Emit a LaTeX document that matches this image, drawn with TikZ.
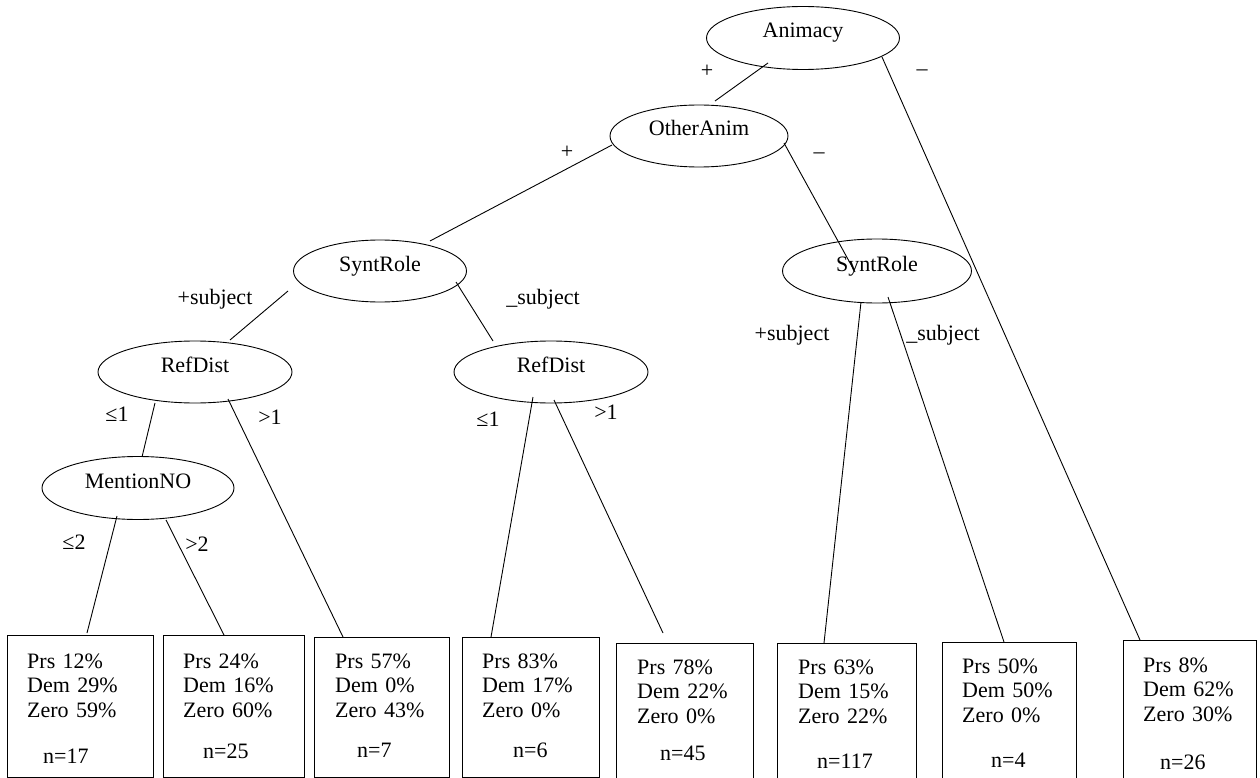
\documentclass[tikz,border=0pt]{standalone}
\usepackage{fontspec}
\setmainfont{Liberation Serif}
\usetikzlibrary{shapes.geometric,positioning}

\tikzset{
  split/.style={ellipse, draw, line width=0.9pt, inner sep=0pt, text height=10pt, text depth=10pt},
  leafbox/.style={rectangle, draw, line width=0.9pt, anchor=north west, inner sep=0pt},
  leaftext/.style={anchor=base west, inner sep=0pt, text width=112pt, align=left},
  branch/.style={line width=0.9pt},
  edgelabel/.style={inner sep=0pt},
}

\begin{document}
\begin{tikzpicture}[x=1pt, y=-1pt, font=\fontsize{22}{24.5}\selectfont]
    \useasboundingbox (0,0) rectangle (1260,778);
    \clip (0,0) rectangle (1260,778);

    % splits
    \node[split, minimum width=193pt, minimum height=63pt] (animacy) at (803,38) {Animacy};
    \node[split, minimum width=178pt, minimum height=62pt] (otheranim) at (699,136) {OtherAnim};
    \node[split, minimum width=173pt, minimum height=62pt] (syntroleL) at (380,271) {SyntRole};
    \node[split, minimum width=189pt, minimum height=64pt] (syntroleR) at (877,271) {SyntRole};
    \node[split, minimum width=194pt, minimum height=62pt] (refdistL) at (195,372) {RefDist};
    \node[split, minimum width=194pt, minimum height=62pt] (refdistR) at (551,372) {RefDist};
    \node[split, minimum width=192pt, minimum height=63pt] (mention) at (138,488) {MentionNO};

    % leaves
    \node[leafbox, minimum width=146pt, minimum height=142pt] (leafA) at (7,635) {};
    \node[leaftext] (textA) at ([shift={(20,33)}]leafA.north west) {Prs 12\%\\Dem 29\%\\Zero 59\%\\[21.5pt]\hspace*{16pt}n=17};
    \node[leafbox, minimum width=141pt, minimum height=142pt] (leafB) at (163,635) {};
    \node[leaftext] (textB) at ([shift={(20,33)}]leafB.north west) {Prs 24\%\\Dem 16\%\\Zero 60\%\\[16.5pt]\hspace*{20pt}n=25};
    \node[leafbox, minimum width=135pt, minimum height=140pt] (leafC) at (314,637) {};
    \node[leaftext] (textC) at ([shift={(21,31)}]leafC.north west) {Prs 57\%\\Dem 0\%\\Zero 43\%\\[15.5pt]\hspace*{22pt}n=7};
    \node[leafbox, minimum width=137pt, minimum height=140pt] (leafD) at (462,637) {};
    \node[leaftext] (textD) at ([shift={(20,31)}]leafD.north west) {Prs 83\%\\Dem 17\%\\Zero 0\%\\[15.5pt]\hspace*{31pt}n=6};
    \node[leafbox, minimum width=137pt, minimum height=150pt] (leafE) at (616,643) {};
    \node[leaftext] (textE) at ([shift={(21,31)}]leafE.north west) {Prs 78\%\\Dem 22\%\\Zero 0\%\\[12.5pt]\hspace*{23pt}n=45};
    \node[leafbox, minimum width=139pt, minimum height=150pt] (leafF) at (777,643) {};
    \node[leaftext] (textF) at ([shift={(21,31)}]leafF.north west) {Prs 63\%\\Dem 15\%\\Zero 22\%\\[20.5pt]\hspace*{19pt}n=117};
    \node[leafbox, minimum width=134pt, minimum height=150pt] (leafG) at (942,642) {};
    \node[leaftext] (textG) at ([shift={(20,31)}]leafG.north west) {Prs 50\%\\Dem 50\%\\Zero 0\%\\[20.5pt]\hspace*{29pt}n=4};
    \node[leafbox, minimum width=133pt, minimum height=150pt] (leafH) at (1123,640) {};
    \node[leaftext] (textH) at ([shift={(20,32)}]leafH.north west) {Prs 8\%\\Dem 62\%\\Zero 30\%\\[23.5pt]\hspace*{17pt}n=26};

    % branches
    \draw[branch] ([shift={(-35,25)}]animacy.center) -- ([shift={(16,-35)}]otheranim.center);
    \draw[branch] ([shift={(79,19)}]animacy.center) -- ([shift={(17,0)}]leafH.north west);
    \draw[branch] ([shift={(-87,9)}]otheranim.center) -- ([shift={(50,-30)}]syntroleL.center);
    \draw[branch] ([shift={(85,7)}]otheranim.center) -- ([shift={(-22,1)}]syntroleR.center);
    \draw[branch] ([shift={(-92,20)}]syntroleL.center) -- ([shift={(35,-32)}]refdistL.center);
    \draw[branch] ([shift={(76,11)}]syntroleL.center) -- ([shift={(-58,-31)}]refdistR.center);
    \draw[branch] ([shift={(-16,31)}]syntroleR.center) -- ([shift={(47,0)}]leafF.north west);
    \draw[branch] ([shift={(11,26)}]syntroleR.center) -- ([shift={(62,0)}]leafG.north west);
    \draw[branch] ([shift={(-40,31)}]refdistL.center) -- ([shift={(4,-31)}]mention.center);
    \draw[branch] ([shift={(33,27)}]refdistL.center) -- ([shift={(29,0)}]leafC.north west);
    \draw[branch] ([shift={(-18,25)}]refdistR.center) -- ([shift={(29,0)}]leafD.north west);
    \draw[branch] ([shift={(3,28)}]refdistR.center) -- ([shift={(47,-10)}]leafE.north west);
    \draw[branch] ([shift={(-21,28)}]mention.center) -- ([shift={(80,-2)}]leafA.north west);
    \draw[branch] ([shift={(28,32)}]mention.center) -- ([shift={(61,0)}]leafB.north west);

    % branch labels
    \node[edgelabel] (plusAnim) at (707,71) {+};
    \node[edgelabel] (minusAnim) at (922,73) {\textendash};
    \node[edgelabel] (plusOther) at (567,152) {+};
    \node[edgelabel] (minusOther) at (819,156) {\textendash};
    \node[edgelabel] (subjPlusL) at (215,299) {+subject};
    \node[edgelabel] (subjMinusL) at (543,299) {\_subject};
    \node[edgelabel] (subjPlusR) at (792,335) {+subject};
    \node[edgelabel] (subjMinusR) at (943,335) {\_subject};
    \node[edgelabel] (leOneL) at (117,414) {≤1};
    \node[edgelabel] (gtOneL) at (270,417) {>1};
    \node[edgelabel] (leOneR) at (488,419) {≤1};
    \node[edgelabel] (gtOneR) at (606,412) {>1};
    \node[edgelabel] (leTwo) at (74,542) {≤2};
    \node[edgelabel] (gtTwo) at (197,544) {>2};
\end{tikzpicture}
\end{document}
